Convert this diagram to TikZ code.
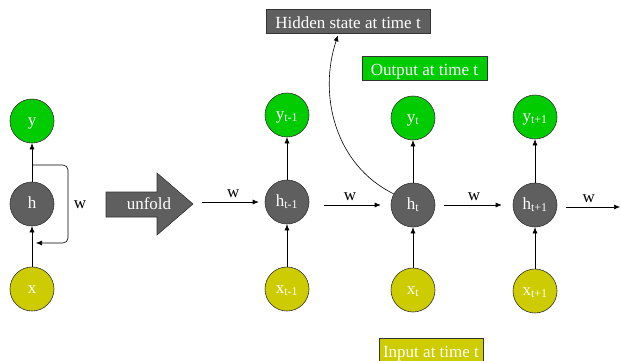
\documentclass[tikz,border=0pt]{standalone}
\usepackage{fontspec}
\setmainfont{Liberation Serif}
\usetikzlibrary{arrows.meta}
\definecolor{vert}{HTML}{00CC00}
\definecolor{jaune}{HTML}{CCCC00}
\definecolor{gris}{HTML}{5F5F5F}
\tikzset{
  neurone/.style={circle, draw=black!80, line width=0.6pt, minimum size=44pt, inner sep=0pt,
    text=white, font=\fontsize{17}{20}\selectfont, text height=12pt, text depth=4pt},
  entree/.style={neurone, fill=jaune},
  cache/.style={neurone, fill=gris},
  sortie/.style={neurone, fill=vert},
  etiquette/.style={rectangle, draw=black!80, line width=0.6pt, inner xsep=2pt, minimum height=24pt,
    text=white, font=\fontsize{17}{20}\selectfont, text height=15pt, text depth=1pt},
  fleche/.style={-{Latex[length=6pt,width=5pt]}, line width=0.6pt},
  poids/.style={font=\fontsize{17}{20}\selectfont, above=1pt}
}
\begin{document}
\begin{tikzpicture}[x=1pt, y=-1pt]
\useasboundingbox (0,0) rectangle (621,360);
% reseau replie
\node[sortie] (y) at (32,121) {y};
\node[cache] (h) at (32,204) {h};
\node[entree] (x) at (32,289) {x};
\draw[fleche] (x) -- (h);
\draw[fleche] (h) -- (y);
\coordinate (bdep) at (32,165);
\coordinate (bfin) at (36,243);
\draw[fleche, rounded corners=5pt] (bdep) -- (68,165) -- (68,243) -- (bfin);
\node[font=\fontsize{17}{20}\selectfont] (wb) at (80,205) {w};
% fleche unfold
\draw[fill=gris, draw=black!80, line width=0.6pt] (106,192) -- (157,192) -- (157,173) -- (193,204)
  -- (157,235) -- (157,217) -- (106,217) -- cycle;
\node[text=white, font=\fontsize{17}{20}\selectfont] (unfold) at (149,204) {unfold};
% reseau deplie
\node[sortie] (ytm) at (287,115) {y\textsubscript{t-1}};
\node[cache] (htm) at (287,202) {h\textsubscript{t-1}};
\node[entree] (xtm) at (287,289) {x\textsubscript{t-1}};
\node[sortie] (yt) at (413,118) {y\textsubscript{t}};
\node[cache] (ht) at (413,205) {h\textsubscript{t}};
\node[entree] (xt) at (413,290) {x\textsubscript{t}};
\node[sortie] (ytp) at (535,117) {y\textsubscript{t+1}};
\node[cache] (htp) at (535,205) {h\textsubscript{t+1}};
\node[entree] (xtp) at (535,291) {x\textsubscript{t+1}};
\foreach \n in {tm,t,tp}{
  \draw[fleche] (x\n) -- (h\n);
  \draw[fleche] (h\n) -- (y\n);
}
\coordinate (wdep) at (202,202);
\coordinate (wfin) at (620,207);
\draw[fleche, shorten >=6pt] (wdep) -- (htm) node[midway, poids] {w};
\draw[fleche, shorten <=15pt, shorten >=10pt] (ht.west -| htm.east) -- (ht.west) node[midway, poids] {w};
\draw[fleche, shorten <=9pt, shorten >=11pt] (ht.east) -- (htp.west) node[midway, poids] {w};
\draw[fleche, shorten <=9pt] (wfin -| htp.east) -- (wfin) node[midway, poids] {w};
% etiquettes
\node[etiquette, fill=gris, minimum width=164pt] (cachet) at (348,21) {Hidden state at time t};
\node[etiquette, fill=vert, minimum width=125pt] (sortiet) at (424.5,68) {Output at time t};
\node[etiquette, fill=jaune, minimum width=104pt] (entreet) at (431,350) {Input at time t};
\draw[fleche] (ht.150) .. controls (335,165) and (318,95) .. ([xshift=-10pt,yshift=-2pt]cachet.south);
\end{tikzpicture}
\end{document}
